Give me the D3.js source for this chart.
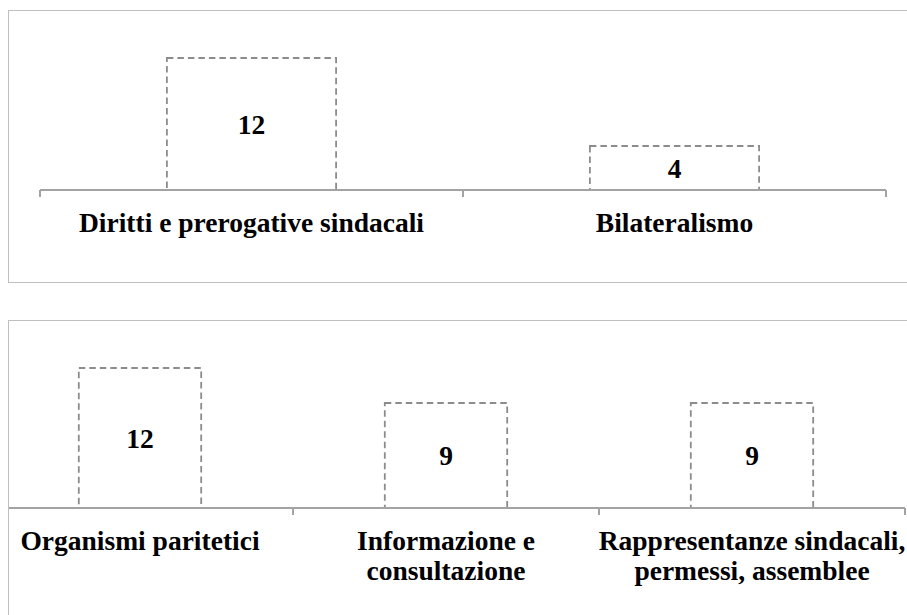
<!DOCTYPE html>
<html>
<head>
<meta charset="utf-8">
<script src="https://cdn.jsdelivr.net/npm/d3@7/dist/d3.min.js"></script>
<style>
  html, body { margin: 0; padding: 0; background: #fff; }
  svg { display: block; }
  svg text { font-weight: bold; }
</style>
</head>
<body>
<svg id="chart" width="907" height="615"></svg>
<script>
// ---- data ----
const topCategories = ["Diritti e prerogative sindacali", "Bilateralismo"];
const topValues = [12, 4];
const bottomCategories = ["Organismi paritetici", "Informazione e\nconsultazione", "Rappresentanze sindacali,\npermessi, assemblee"];
const bottomValues = [12, 9, 9];

// ---- layout ----
const svg = d3.select("#chart");
const FONT = '"Liberation Serif"';
const FS = 27.5;

const panels = [
  { cats: topCategories, vals: topValues, box: { x: 8, y: 10, w: 940, h: 272 },
    axisY: 190, xRange: [40, 886], barH: 132, labelY: 232 },
  { cats: bottomCategories, vals: bottomValues, box: { x: 8, y: 320, w: 940, h: 340 },
    axisY: 508, xRange: [-13, 905], barH: 140, labelY: 550 }
];

panels.forEach((p, i) => {
  const g = svg.append("g");

  g.append("rect")
    .attr("x", p.box.x + 0.5).attr("y", p.box.y + 0.5)
    .attr("width", p.box.w).attr("height", p.box.h)
    .attr("fill", "#fff").attr("stroke", "#bfbfbf").attr("stroke-width", 1);

  const x = d3.scaleBand().domain(p.cats).range(p.xRange).paddingInner(0.6).paddingOuter(0.3);
  const y = d3.scaleLinear().domain([0, 12]).range([p.axisY, p.axisY - p.barH]);

  // bars (dashed outline)
  g.selectAll("rect.bar").data(p.cats).enter().append("rect")
    .attr("class", "bar")
    .attr("x", d => x(d))
    .attr("y", (d, j) => y(p.vals[j]))
    .attr("width", x.bandwidth())
    .attr("height", (d, j) => y(0) - y(p.vals[j]))
    .attr("fill", "none")
    .attr("stroke", "#8c8c8c")
    .attr("stroke-width", 1.8)
    .attr("stroke-dasharray", "6.5,4");

  // axis line (kept inside the panel frame)
  g.append("line")
    .attr("x1", Math.max(p.xRange[0], p.box.x + 1)).attr("x2", p.xRange[1])
    .attr("y1", y(0)).attr("y2", y(0))
    .attr("stroke", "#a3a3a3").attr("stroke-width", 2);

  // ticks at category boundaries
  const step = x.step();
  const bounds = p.cats.map(d => x(d) - (step - x.bandwidth()) / 2);
  bounds.push(p.xRange[1]);
  g.selectAll("line.tick").data(bounds.filter(b => b > p.box.x)).enter().append("line")
    .attr("class", "tick")
    .attr("x1", d => d).attr("x2", d => d)
    .attr("y1", y(0)).attr("y2", y(0) + 7)
    .attr("stroke", "#a3a3a3").attr("stroke-width", 2);

  // value labels
  g.selectAll("text.val").data(p.cats).enter().append("text")
    .attr("class", "val")
    .attr("x", d => x(d) + x.bandwidth() / 2)
    .attr("y", (d, j) => (y(p.vals[j]) + y(0)) / 2 + 9.5)
    .attr("text-anchor", "middle")
    .attr("font-size", FS)
    .style("font-family", FONT)
    .attr("fill", "#000")
    .text((d, j) => p.vals[j]);

  // category labels
  const lab = g.selectAll("text.cat").data(p.cats).enter().append("text")
    .attr("class", "cat")
    .attr("x", d => x(d) + x.bandwidth() / 2)
    .attr("y", p.labelY)
    .attr("text-anchor", "middle")
    .attr("font-size", FS)
    .style("font-family", FONT)
    .attr("fill", "#000");
  lab.each(function(d) {
    const t = d3.select(this);
    const cx = x(d) + x.bandwidth() / 2;
    d.split("\n").forEach((line, k) => {
      t.append("tspan").attr("x", cx).attr("y", p.labelY + k * 30).text(line);
    });
  });
});
</script>
</body>
</html>
